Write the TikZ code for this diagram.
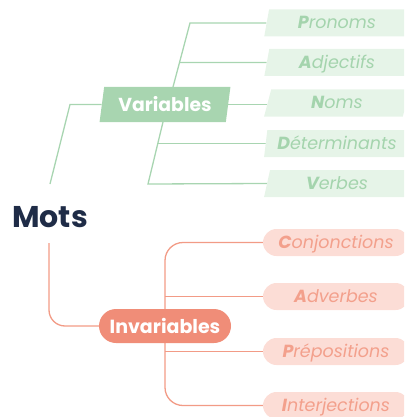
\documentclass[tikz,border=0pt]{standalone}
\usepackage{fontspec}
\setmainfont{Poppins}
\usetikzlibrary{shapes.geometric,backgrounds,positioning}

\definecolor{navy}{HTML}{1F2C47}
\definecolor{grnline}{HTML}{A8D5B1}
\definecolor{grnbox}{HTML}{A8D5B0}
\definecolor{grnleaf}{HTML}{E6F4E8}
\definecolor{grntext}{HTML}{A4D4AD}
\definecolor{salline}{HTML}{F29B86}
\definecolor{salbox}{HTML}{F08D78}
\definecolor{salleaf}{HTML}{FCDDD6}
\definecolor{saltext}{HTML}{F3A08C}

\begin{document}
\begin{tikzpicture}[x=1pt,y=-1pt
% Word style
		, mots/.style={text=navy
							    , font=\fontsize{30}{36}\selectfont\bfseries
							    , inner sep=0pt
							    , anchor=base}
% Group styles
		, varbox/.style={trapezium
							    , trapezium left angle=77
							    , trapezium right angle=103
							    , trapezium stretches=true
							    , fill=grnbox
							    , text=white
							    , font=\fontsize{18.8}{22}\selectfont\bfseries
							    , minimum width=132pt
							    , minimum height=35pt
							    , inner sep=0pt}
		, invbox/.style={rectangle
							    , rounded corners=17pt
							    , fill=salbox
							    , text=white
							    , font=\fontsize{19}{22}\selectfont\bfseries
							    , minimum width=132pt
							    , minimum height=34pt
							    , inner sep=0pt}
% Leaf styles
		, gleaf/.style={trapezium
							    , trapezium left angle=77
							    , trapezium right angle=103
							    , trapezium stretches=true
							    , fill=grnleaf
							    , text=grntext
							    , font=\fontsize{17.5}{20}\selectfont\itshape
							    , text height=1.2em
							    , text depth=0pt
							    , minimum width=146pt
							    , minimum height=27pt
							    , inner sep=0pt}
		, sleaf/.style={rectangle
							    , rounded corners=13.5pt
							    , fill=salleaf
							    , text=saltext
							    , font=\fontsize{17.5}{20}\selectfont\itshape
							    , text height=1.2em
							    , text depth=0pt
							    , minimum width=146pt
							    , minimum height=27pt
							    , inner sep=0pt}
% Edges
		, gline/.style={draw=grnline, line width=1.3pt}
		, sline/.style={draw=salline, line width=1.3pt}
	]
	\useasboundingbox (0,0) rectangle (404,417);
	\clip (0,0) rectangle (404,417);
%% Draw nodes
	\node [mots] (mots) at (50,227) {Mots};
	\node [varbox] (var) at (165,104.5) {Variables};
	\node [invbox] (inv) at (165,326) {Invariables};
	% variable words
	\node [gleaf] (pro) at (337,23) {\textbf{P}ronoms};
	\node [gleaf] (adj) at (337,62.5) {\textbf{A}djectifs};
	\node [gleaf] (nom) at (337,103) {\textbf{N}oms};
	\node [gleaf] (det) at (337,143.5) {\textbf{D}éterminants};
	\node [gleaf] (ver) at (337,183.5) {\textbf{V}erbes};
	% invariable words
	\node [sleaf] (con) at (336,242.5) {\textbf{C}onjonctions};
	\node [sleaf] (adv) at (336,296.5) {\textbf{A}dverbes};
	\node [sleaf] (pre) at (336,351.5) {\textbf{P}répositions};
	\node [sleaf] (int) at (336,405.5) {\textbf{I}nterjections};
%% Draw edges
	\begin{scope}[on background layer]
		\coordinate (vn) at (173,87);
		\coordinate (vt) at (190,23);
		\coordinate (vs) at (163,122);
		\coordinate (vb) at (148,184);
		\coordinate (vl) at (70,104);
		\coordinate (mt) at (50,184);
		\coordinate (ms) at (49,243);
		\draw [gline] (vn) -- (vt) -- (pro.west);
		\draw [gline] (intersection of vn--vt and adj.west--adj.east) -- (adj.west);
		\draw [gline] (var.east) -- (var.east -| nom.west);
		\draw [gline] (intersection of vs--vb and det.west--det.east) -- (det.west);
		\draw [gline] (vs) -- (vb) -- (ver.west);
		\draw [gline] (var.west) -- (var.west -| vl) -- (mt);
		\draw [sline, rounded corners=16pt] (ms) |- (inv.west);
		\draw [sline, rounded corners=18pt] (con.west) -| (inv.north);
		\draw [sline, rounded corners=18pt] (int.west) -| (inv.south);
		\draw [sline] (adv.west -| inv.north) -- (adv.west);
		\draw [sline] (pre.west -| inv.north) -- (pre.west);
	\end{scope}
\end{tikzpicture}
\end{document}
